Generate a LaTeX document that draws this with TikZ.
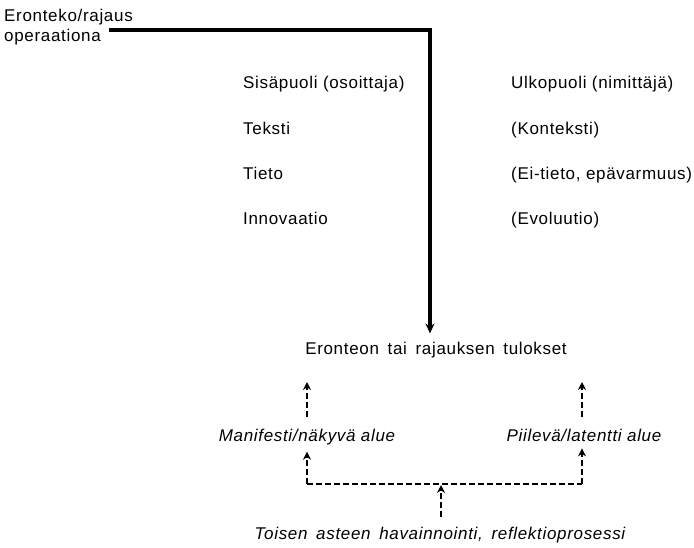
\documentclass[tikz,border=0pt]{standalone}
\usepackage{fontspec}
\setmainfont{Liberation Sans}[LetterSpace=4]
\newfontfamily\widefont{Liberation Sans}[LetterSpace=4,WordSpace=1.6]
\usetikzlibrary{arrows.meta}
\begin{document}
\begin{tikzpicture}[x=1pt,y=-1pt,font=\fontsize{17}{20}\selectfont]
  \tikzset{
    lab/.style={inner sep=0pt,anchor=base west},
    area/.style={inner sep=0pt,anchor=base,font=\fontsize{17}{20}\selectfont\itshape},
    flow/.style={line width=3.2pt,-{Stealth[length=10pt,width=9pt]}},
    obs/.style={line width=2pt,dash pattern=on 6pt off 3pt,-{Stealth[length=8pt,width=8pt]}},
  }
  % operation and result
  \node[lab] (op1) at (4,21) {Eronteko/rajaus};
  \node[lab] (op2) at (4,41) {operaationa};
  \node[inner sep=0pt,anchor=base] (result) at (436,354) {\widefont Eronteon tai rajauksen tulokset};
  \coordinate (bend) at (430,30);
  \draw[flow] ([xshift=8pt]op2.east |- bend) -- (bend) -- ([yshift=8pt]bend |- result.north);
  % the two columns
  \foreach \i/\yy/\inner/\outer in {1/88/{Sisäpuoli (osoittaja)}/{Ulkopuoli (nimittäjä)},
                                  2/134/{Teksti}/{(Konteksti)},
                                  3/179/{Tieto}/{(Ei-tieto, epävarmuus)},
                                  4/224/{Innovaatio}/{(Evoluutio)}}{
    \node[lab] (in\i) at (243,\yy) {\inner};
    \node[lab] (out\i) at (511,\yy) {\outer};
  }
  % areas and reflection
  \node[area] (manifest) at (307,441) {Manifesti/näkyvä alue};
  \node[area] (latent) at (584,441) {Piilevä/latentti alue};
  \node[area] (reflect) at (440,539) {\widefont\itshape Toisen asteen havainnointi, reflektioprosessi};
  \coordinate (mtop) at (307,382);
  \coordinate (ltop) at (582,382);
  \coordinate (split) at (441,484);
  \draw[obs] ([yshift=11pt]manifest.north) -- (mtop);
  \draw[obs] ([yshift=11pt]latent.north -| ltop) -- (ltop);
  \draw[obs] ([yshift=9pt]reflect.north -| split) -- ([yshift=-1pt]split);
  \draw[obs,-] (split -| mtop) -- (split -| ltop);
  \draw[obs] (split -| mtop) -- ([yshift=-7pt]mtop |- manifest.south);
  \draw[obs] (split -| ltop) -- ([yshift=-7pt]ltop |- latent.south);
  \path[use as bounding box] (0,0) rectangle (694,547);
\end{tikzpicture}
\end{document}
